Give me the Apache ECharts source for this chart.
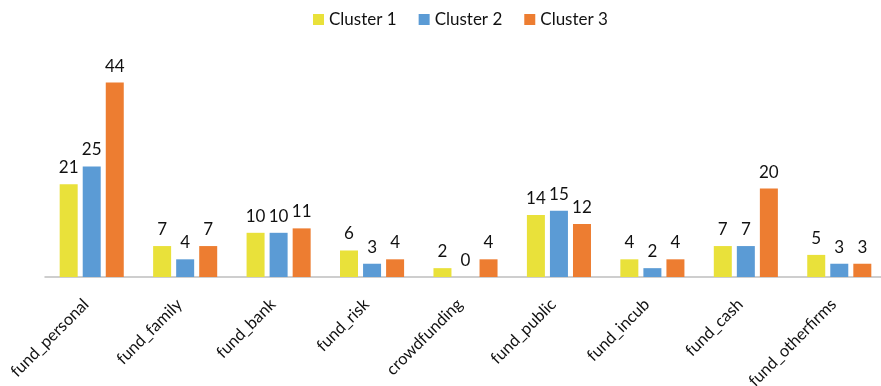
<!DOCTYPE html>
<html>
<head>
<meta charset="utf-8">
<script src="https://cdn.jsdelivr.net/npm/echarts@6/dist/echarts.min.js"></script>
<style>
  html, body { margin: 0; padding: 0; background: #fff; }
  #chart { width: 881px; height: 386px; }
</style>
</head>
<body>
<div id="chart"></div>
<script>
// Funding sources per cluster
const categories = ['fund_personal', 'fund_family', 'fund_bank', 'fund_risk', 'crowdfunding',
                    'fund_public', 'fund_incub', 'fund_cash', 'fund_otherfirms'];
const cluster1 = [21, 7, 10, 6, 2, 14, 4, 7, 5];
const cluster2 = [25, 4, 10, 3, 0, 15, 2, 7, 3];
const cluster3 = [44, 7, 11, 4, 4, 12, 4, 20, 3];
const seriesNames = ['Cluster 1', 'Cluster 2', 'Cluster 3'];
const colors = ['#E9E13A', '#5B9BD5', '#ED7D31'];

const FONT = 'Lato, "Open Sans", sans-serif';

const chart = echarts.init(document.getElementById('chart'), null, { renderer: 'canvas' });

function makeSeries(name, data, color) {
  return {
    name: name,
    type: 'bar',
    data: data,
    barWidth: 18,
    barGap: '28%',
    itemStyle: { color: color },
    label: {
      show: true,
      position: 'top',
      distance: 8,
      color: '#111',
      fontSize: 17,
      fontFamily: FONT
    }
  };
}

chart.setOption({
  animation: false,
  color: colors,
  legend: {
    top: 6,
    left: 308,
    itemWidth: 11,
    itemHeight: 11,
    itemGap: 22,
    icon: 'rect',
    textStyle: { fontSize: 17, color: '#111', fontFamily: FONT },
    data: seriesNames
  },
  grid: { left: 45, right: -5, top: 56, height: 221, containLabel: false, outerBoundsMode: 'none' },
  xAxis: {
    type: 'category',
    data: categories,
    axisLine: { lineStyle: { color: '#BFBFBF', width: 1.5 } },
    axisTick: { show: false },
    axisLabel: {
      rotate: 45,
      interval: 0,
      margin: 19,
      padding: [0, 8, 0, 0],
      fontSize: 16.5,
      color: '#111',
      fontFamily: FONT
    }
  },
  yAxis: {
    type: 'value',
    min: 0,
    max: 50,
    show: false,
    splitLine: { show: false }
  },
  series: [
    makeSeries(seriesNames[0], cluster1, colors[0]),
    makeSeries(seriesNames[1], cluster2, colors[1]),
    makeSeries(seriesNames[2], cluster3, colors[2])
  ]
});
</script>
</body>
</html>
